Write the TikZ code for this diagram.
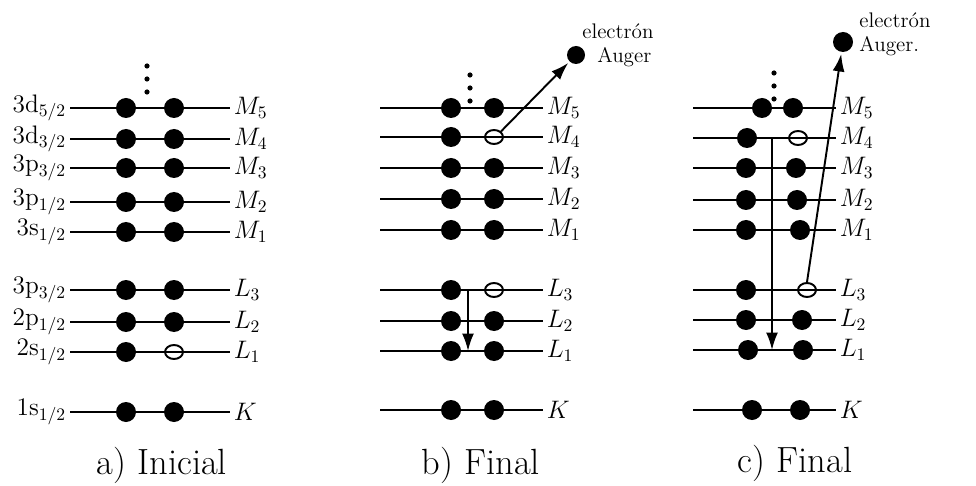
\documentclass[tikz,border=0pt]{standalone}
\usepackage{fontspec}
\usepackage{tikz}
\usetikzlibrary{arrows.meta}
\usetikzlibrary{shapes.geometric}
\usepackage{amsmath}

\begin{document}
\begin{tikzpicture}[x=0.2mm, y=-0.2mm,
        lvl/.style = {line width=1.1pt},
        full/.style = {circle, fill, inner sep=0pt, minimum size=4mm},
        hole/.style = {ellipse, draw, line width=1.1pt, inner sep=0pt, minimum width=3.6mm, minimum height=2.8mm},
        shell/.style = {font=\Large, anchor=west, inner sep=2pt},
        orb/.style = {font=\Large, anchor=east, inner sep=2pt},
        note/.style = {font=\large, anchor=north west, align=left, inner sep=0pt},
        jump/.style = {-{Latex[length=3.5mm, width=2.4mm]}, line width=1.1pt}]
    \useasboundingbox (0,0) rectangle (976,486);

    \foreach \n/\y/\o/\m/\s in {M5/108/{3\mathrm{d}_{5/2}}/{M_5}/full, M4/139/{3\mathrm{d}_{3/2}}/{M_4}/full,
            M3/168/{3\mathrm{p}_{3/2}}/{M_3}/full, M2/202/{3\mathrm{p}_{1/2}}/{M_2}/full,
            M1/232/{3\mathrm{s}_{1/2}}/{M_1}/full, L3/290/{3\mathrm{p}_{3/2}}/{L_3}/full,
            L2/322/{2\mathrm{p}_{1/2}}/{L_2}/full, L1/352/{2\mathrm{s}_{1/2}}/{L_1}/hole,
            K/412/{1\mathrm{s}_{1/2}}/K/full} {
        \node[orb] (a\n-o) at (70,\y) {$\o$};
        \node[shell] (a\n-m) at (230,\y) {$\m$};
        \draw[lvl] (a\n-o.east) -- (a\n-m.west);
        \node[full] (a\n-1) at (126,\y) {};
        \node[\s] (a\n-2) at (174,\y) {};
    }

    \foreach \n/\y/\m/\s in {M5/108/{M_5}/full, M4/137/{M_4}/hole, M3/168/{M_3}/full, M2/199/{M_2}/full,
            M1/230/{M_1}/full, L3/290/{L_3}/hole, L2/321/{L_2}/full, L1/351/{L_1}/full, K/410/K/full} {
        \coordinate (b\n-w) at (380,\y);
        \node[shell] (b\n-m) at (543,\y) {$\m$};
        \draw[lvl] (b\n-w) -- (b\n-m.west);
        \node[full] (b\n-1) at (451,\y) {};
        \node[\s] (b\n-2) at (494,\y) {};
    }

    \foreach \n/\y/\m/\xa/\xb/\s in {M5/108/{M_5}/762/793/full, M4/138/{M_4}/747/798/hole,
            M3/168/{M_3}/746/796/full, M2/200/{M_2}/746/797/full, M1/230/{M_1}/746/800/full,
            L3/290/{L_3}/746/807/hole, L2/320/{L_2}/746/802/full, L1/350/{L_1}/748/803/full,
            K/410/K/752/800/full} {
        \coordinate (c\n-w) at (693,\y);
        \node[shell] (c\n-m) at (836,\y) {$\m$};
        \draw[lvl] (c\n-w) -- (c\n-m.west);
        \node[full] (c\n-1) at (\xa,\y) {};
        \node[\s] (c\n-2) at (\xb,\y) {};
    }

    % dots above the M5 shells
    \foreach \x/\y in {147/66, 470/75, 774/73}
        \foreach \d in {0,1,2}
            \fill (\x,\y+13*\d) circle (2.6);

    \node[full, minimum size=3.6mm] (baug) at (576,55) {};
    \node[note] (btxt) at (582,23) {electrón\\\hspace*{3mm}Auger};
    \node[full] (caug) at (843,42) {};
    \node[note] (ctxt) at (859,12) {electrón\\Auger.};

    \coordinate (bjump) at (468,290);
    \coordinate (cjump) at (772,138);
    \draw[jump] (bjump) -- (bjump |- bL1-1);
    \draw[jump] (cjump) -- (cjump |- cL1-1);
    \draw[jump, shorten >=1pt] (bM4-2.north east) -- (baug);
    \draw[jump, shorten >=1pt] (cL3-2.north) -- (caug);

    \node[font=\huge] (capa) at (162,465) {a) Inicial};
    \node[font=\huge] (capb) at (481,465) {b) Final};
    \node[font=\huge] (capc) at (795,463) {c) Final};
\end{tikzpicture}
\end{document}
